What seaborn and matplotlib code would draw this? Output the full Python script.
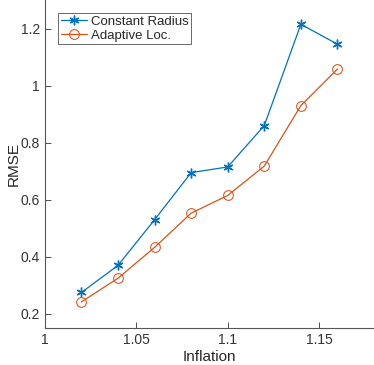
import numpy as np
import pandas as pd
import seaborn as sns
import matplotlib.pyplot as plt

sns.set_theme(style='white')
plt.rcParams['font.family'] = ['Liberation Sans', 'DejaVu Sans']

inflation = [1.02, 1.04, 1.06, 1.08, 1.10, 1.12, 1.14, 1.16]
rmse_const = [0.275, 0.370, 0.530, 0.695, 0.715, 0.860, 1.215, 1.145]
rmse_adapt = [0.242, 0.325, 0.433, 0.553, 0.615, 0.718, 0.930, 1.058]

df = pd.DataFrame({
    'Inflation': inflation * 2,
    'RMSE': rmse_const + rmse_adapt,
    'Method': ['Constant Radius'] * 8 + ['Adaptive Loc.'] * 8,
})

fig = plt.figure(figsize=(3.74, 3.65), dpi=100)
ax = fig.add_axes([0.12, 0.101, 0.88, 0.899])

sns.lineplot(data=df, x='Inflation', y='RMSE', hue='Method', style='Method',
             palette=['#0072BD', '#D95319'], markers=['*', 'o'], dashes=False,
             markersize=7, linewidth=0.9, ax=ax)
# open circles for the adaptive series, asterisks for constant radius
for line in ax.lines:
    if line.get_marker() == 'o':
        line.set_markerfacecolor('none')
        line.set_markeredgecolor('#D95319')
    elif line.get_marker() == '*':
        line.set_marker((6, 2, 0))
        line.set_markeredgewidth(1.0)
        line.set_markeredgecolor('#0072BD')

ax.set_xlim(1.0, 1.18)
ax.set_ylim(0.15, 1.3)
ax.set_xticks([1, 1.05, 1.1, 1.15])
ax.set_xticklabels(['1', '1.05', '1.1', '1.15'])
ax.set_yticks([0.2, 0.4, 0.6, 0.8, 1.0, 1.2])
ax.set_yticklabels(['0.2', '0.4', '0.6', '0.8', '1', '1.2'])
ax.tick_params(direction='in', length=4, width=0.6, colors='#333333', labelsize=10,
               left=True, bottom=True)
for side in ['top', 'right']:
    ax.spines[side].set_visible(False)
for side in ['left', 'bottom']:
    ax.spines[side].set_color('#555555')
    ax.spines[side].set_linewidth(0.8)
ax.set_xlabel('Inflation', fontsize=11, color='#262626', labelpad=2)
ax.set_ylabel('RMSE', fontsize=11, color='#262626', labelpad=0)

leg = ax.legend(loc='upper left', bbox_to_anchor=(0.04, 0.96), fontsize=9.5,
                frameon=True, fancybox=False, borderpad=0.2, handlelength=2.0,
                handletextpad=0.3, labelspacing=0.1, borderaxespad=0.0)
leg.get_frame().set_edgecolor('#262626')
leg.get_frame().set_linewidth(0.6)
for h in leg.legend_handles:
    if h.get_marker() == 'o':
        h.set_markerfacecolor('none')
    else:
        h.set_marker((6, 2, 0))

fig.savefig('out.png', dpi=100)
